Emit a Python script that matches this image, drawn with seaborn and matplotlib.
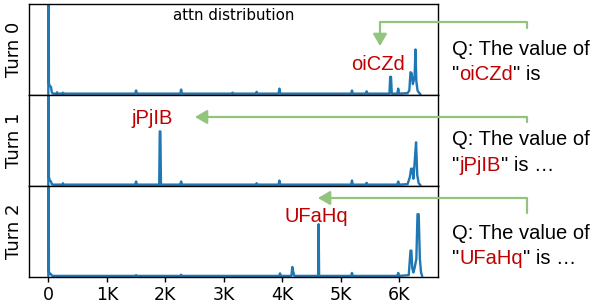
import matplotlib
matplotlib.use("Agg")
import matplotlib.pyplot as plt
import pandas as pd
import seaborn as sns
from matplotlib.patches import FancyArrowPatch
from matplotlib.path import Path

# ---------------- data ----------------
turn_labels = ["Turn 0", "Turn 1", "Turn 2"]
keys = ["oiCZd", "jPjIB", "UFaHq"]
tail_texts = ['" is', '" is …', '" is …']
xtick_values = [0, 1000, 2000, 3000, 4000, 5000, 6000]
xtick_labels = ["0", "1K", "2K", "3K", "4K", "5K", "6K"]

turn0_pos = [0, 3, 10, 25, 45, 60, 80,
             140, 150, 160, 240, 250, 260,
             1485, 1500, 1515, 2255, 2270, 2285,
             3140, 3150, 3160, 3545, 3560, 3575, 3935, 3950, 3965,
             5175, 5190, 5205, 5425, 5440, 5455,
             5830, 5843, 5857, 5870, 5965, 5980, 5995,
             6140, 6170, 6190, 6210, 6230, 6260, 6275, 6290, 6310, 6340, 6360]
turn0_attn = [0.01, 3.0, 0.13, 0.10, 0.09, 0.03, 0.015,
              0.015, 0.03, 0.015, 0.015, 0.025, 0.015,
              0.015, 0.05, 0.015, 0.015, 0.06, 0.015,
              0.015, 0.025, 0.015, 0.015, 0.035, 0.015, 0.015, 0.07, 0.015,
              0.015, 0.05, 0.015, 0.015, 0.04, 0.015,
              0.015, 0.2, 0.2, 0.015, 0.015, 0.07, 0.015,
              0.02, 0.05, 0.25, 0.24, 0.12, 0.2, 0.5, 0.15, 0.05, 0.02, 0.01]

turn1_pos = [0, 3, 10, 25, 45, 60, 80,
             240, 250, 260, 1485, 1500, 1515,
             1895, 1905, 1915, 1925, 2255, 2270, 2285,
             3545, 3560, 3575, 3935, 3950, 3965,
             5175, 5190, 5205, 5425, 5440, 5455, 5965, 5980, 5995,
             6140, 6180, 6200, 6220, 6240, 6265, 6285, 6305, 6330, 6360]
turn1_attn = [0.01, 3.0, 0.10, 0.06, 0.05, 0.02, 0.015,
              0.015, 0.03, 0.015, 0.015, 0.05, 0.015,
              0.015, 0.6, 0.6, 0.015, 0.015, 0.05, 0.015,
              0.015, 0.03, 0.015, 0.015, 0.06, 0.015,
              0.015, 0.06, 0.015, 0.015, 0.035, 0.015, 0.015, 0.05, 0.015,
              0.02, 0.10, 0.19, 0.19, 0.08, 0.3, 0.48, 0.12, 0.03, 0.01]

turn2_pos = [0, 3, 10, 25, 45, 60, 80,
             1485, 1500, 1515, 2255, 2270, 2285,
             3945, 3960, 3975, 4155, 4170, 4185, 4205,
             4612, 4620, 4628, 5175, 5190, 5205, 5965, 5980, 5995,
             6160, 6190, 6205, 6220, 6240, 6260, 6290, 6310, 6330, 6350, 6370, 6390]
turn2_attn = [0.01, 3.0, 0.06, 0.04, 0.03, 0.015, 0.012,
              0.012, 0.02, 0.012, 0.012, 0.025, 0.012,
              0.012, 0.04, 0.012, 0.012, 0.11, 0.06, 0.012,
              0.012, 0.58, 0.012, 0.012, 0.045, 0.012, 0.012, 0.045, 0.012,
              0.02, 0.29, 0.29, 0.1, 0.05, 0.1, 0.2, 0.69, 0.69, 0.2, 0.05, 0.01]

series = [(turn0_pos, turn0_attn), (turn1_pos, turn1_attn), (turn2_pos, turn2_attn)]

# ---------------- style ----------------
sns.set_theme(style="ticks", rc={
    "axes.edgecolor": "black", "axes.linewidth": 1.0,
    "xtick.color": "black", "text.color": "black", "axes.labelcolor": "black",
    "xtick.major.size": 3.5, "xtick.major.width": 1.0,
})
plt.rcParams["font.family"] = ["DejaVu Sans"]

W, H = 598, 308
fig = plt.figure(figsize=(W / 100, H / 100), dpi=100)


def fx(px):
    return px / W


def fy(py):
    return 1 - py / H


left, right, top, bottom = 29, 438, 4, 277
ph = (bottom - top) / 3
line_color = "#1f77b4"
red = "#c00000"
green = "#93c47d"
arial = "Liberation Sans"
for i in range(3):
    y0 = top + i * ph
    ax = fig.add_axes([fx(left), fy(y0 + ph), fx(right) - fx(left), ph / H])
    df = pd.DataFrame({"pos": series[i][0], "attn": series[i][1]})
    sns.lineplot(data=df, x="pos", y="attn", ax=ax, color=line_color,
                 linewidth=1.7, estimator=None, sort=False)
    ax.set_xlim(-330, 6660)
    ax.set_ylim(0, 1.0)
    ax.set_yticks([])
    ax.set_ylabel(turn_labels[i], fontsize=13, labelpad=4)
    ax.set_xlabel("")
    ax.set_xticks(xtick_values)
    if i < 2:
        ax.tick_params(axis="x", bottom=False, labelbottom=False)
    else:
        ax.set_xticklabels(xtick_labels, fontsize=12.5)
        ax.tick_params(axis="x", pad=3)

fig.text(fx(234), fy(16), "attn distribution", fontsize=10.9, ha="center", va="center")

# red labels inside the plot
label_pos = [(378, 65), (152, 118), (316, 216)]
for k, (px, py) in zip(keys, label_pos):
    fig.text(fx(px), fy(py), k, color=red, fontsize=14.5, ha="center", va="center",
             family=arial)

# right-side question text
baselines = [(55, 80), (145, 171), (239, 264)]
tx = 452
for k, tail, (b1, b2) in zip(keys, tail_texts, baselines):
    fig.text(fx(tx), fy(b1), "Q: The value of", fontsize=14.5, ha="left", va="baseline",
             family=arial)
    t1 = fig.text(fx(tx), fy(b2), '"', fontsize=14.5, ha="left", va="baseline",
                  family=arial)
    a2 = plt.annotate(k, xy=(1, 0), xycoords=t1, fontsize=14.5, color=red, ha="left",
                      va="bottom", family=arial, annotation_clip=False)
    plt.annotate(tail, xy=(1, 0), xycoords=a2, fontsize=14.5, ha="left",
                 va="bottom", family=arial, annotation_clip=False)

# green arrows
arrow_paths = [
    [(527, 28), (527, 22), (380, 22), (380, 46)],
    [(527, 122), (527, 117), (195, 117)],
    [(527, 213), (527, 198), (318, 198)],
]
for verts in arrow_paths:
    v = [(fx(a), fy(b)) for a, b in verts]
    codes = [Path.MOVETO] + [Path.LINETO] * (len(v) - 1)
    arr = FancyArrowPatch(path=Path(v, codes), arrowstyle="-|>,head_length=0.6,head_width=0.35",
                          mutation_scale=12, color=green, linewidth=1.6,
                          transform=fig.transFigure, shrinkA=0, shrinkB=0)
    fig.add_artist(arr)

fig.savefig("out.png", dpi=100)
